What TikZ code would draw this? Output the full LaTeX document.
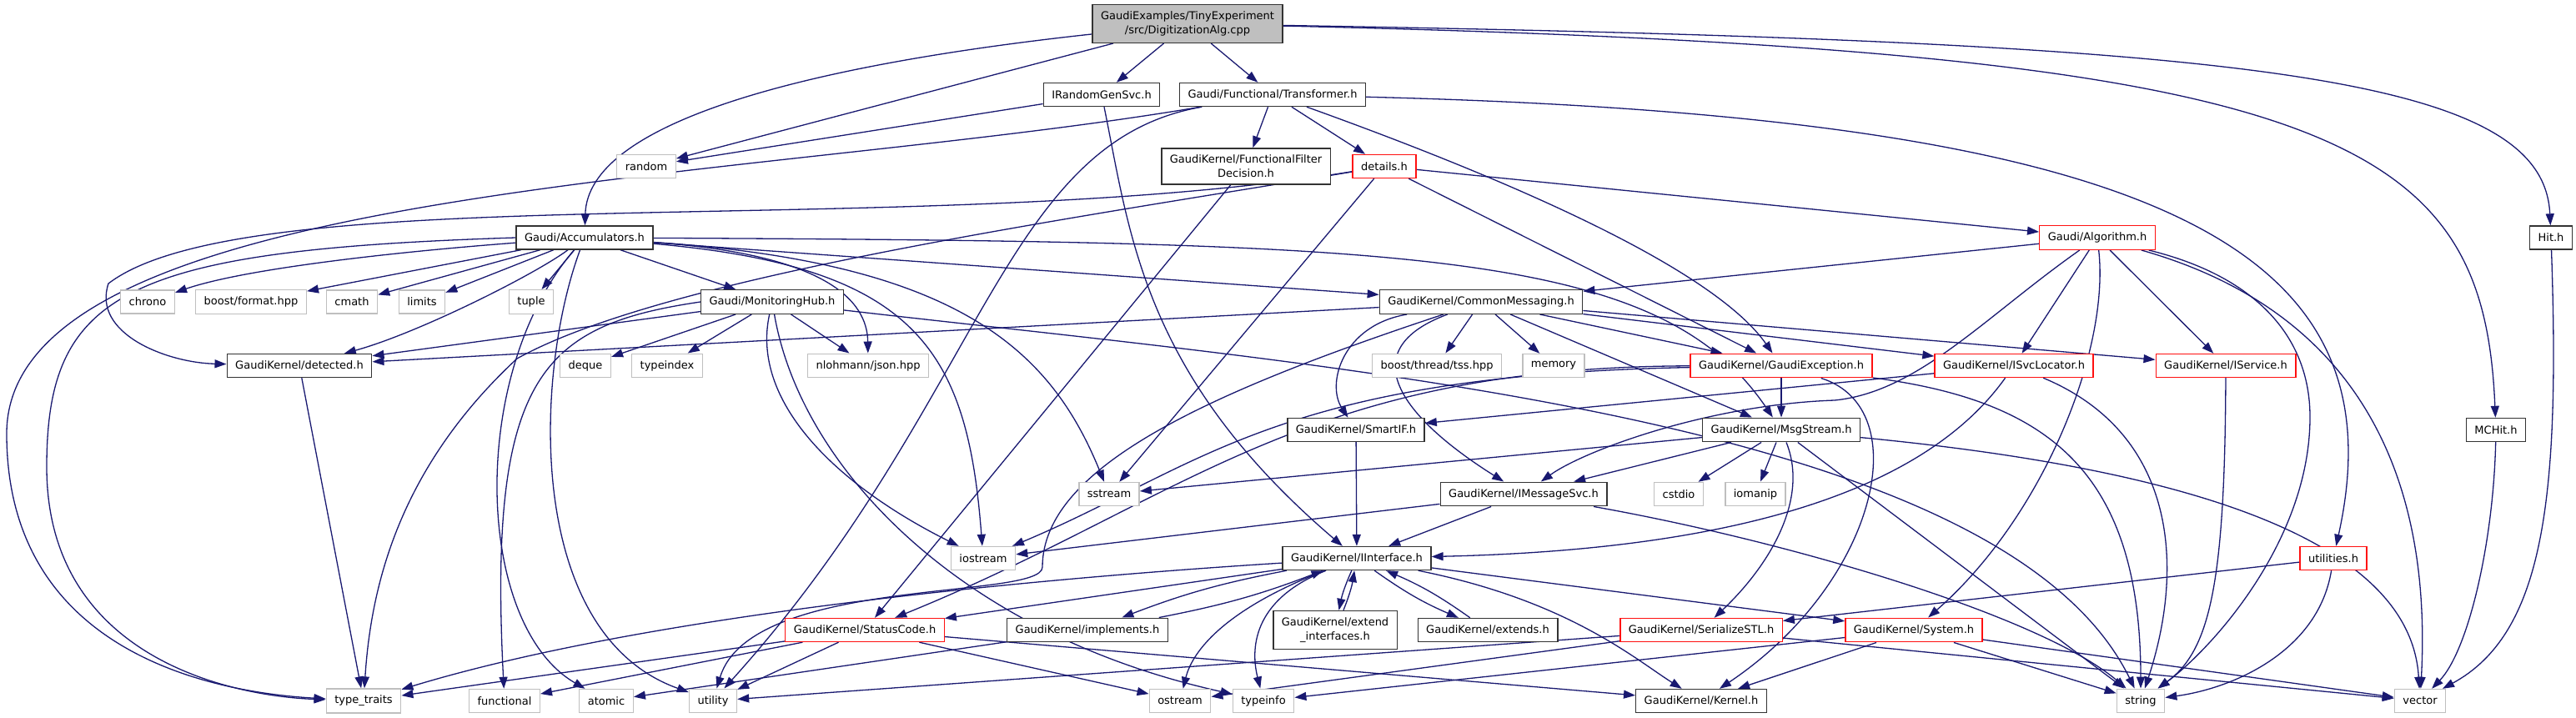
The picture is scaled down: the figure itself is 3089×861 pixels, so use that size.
\documentclass[tikz,border=0pt]{standalone}
\usepackage{fontspec}
\setmainfont{DejaVu Sans}
\usetikzlibrary{arrows.meta}
\definecolor{edgeblue}{HTML}{191970}
\definecolor{extgrey}{HTML}{BFBFBF}
\definecolor{truncred}{HTML}{FF1010}
\pgfdeclarelayer{edges}
\pgfsetlayers{edges,main}
\tikzstyle{hdr} = [draw=black!80, line width=1.4pt, fill=white, text=black, rectangle, minimum height=28pt, inner xsep=10pt, inner ysep=8pt, font=\fontsize{13}{17}\selectfont]
\tikzstyle{inc} = [hdr]
\tikzstyle{incred} = [hdr, draw=truncred]
\tikzstyle{incext} = [hdr, draw=extgrey]
\tikzstyle{incmain} = [hdr, fill=extgrey, align=center]
\tikzstyle{deps} = [color=edgeblue, line width=1.3pt]

\begin{document}
\begin{tikzpicture}[->,>={Triangle[length=14pt,width=10pt]},x=1pt,y=-1pt]
	\useasboundingbox (0,0) rectangle (3089,861);
	% header boxes, row by row
	\node (main) [incmain] at (1424,28.5) {GaudiExamples/TinyExperiment\\/src/DigitizationAlg.cpp};
	\node (rndsvc) [inc] at (1321,113.5) {IRandomGenSvc.h};
	\node (transf) [inc] at (1526,113.5) {Gaudi/Functional/Transformer.h};
	\node (random) [incext] at (775,199.5) {random};
	\node (filter) [inc, align=center] at (1494,199.5) {GaudiKernel/FunctionalFilter\\Decision.h};
	\node (details) [incred] at (1660,199.5) {details.h};
	\node (accum) [inc] at (701,285) {Gaudi/Accumulators.h};
	\node (algo) [incred] at (2515,285) {Gaudi/Algorithm.h};
	\node (hit) [inc] at (3059,285) {Hit.h};
	\node (chrono) [incext] at (177,362) {chrono};
	\node (bformat) [incext] at (301,362) {boost/format.hpp};
	\node (cmath) [incext] at (422,362) {cmath};
	\node (limits) [incext] at (506,362) {limits};
	\node (tuple) [incext] at (637,362) {tuple};
	\node (monhub) [inc] at (926,362) {Gaudi/MonitoringHub.h};
	\node (commsg) [inc] at (1776,362) {GaudiKernel/CommonMessaging.h};
	\node (detected) [inc] at (359,438.5) {GaudiKernel/detected.h};
	\node (deque) [incext] at (702,438.5) {deque};
	\node (typeindex) [incext] at (800,438.5) {typeindex};
	\node (json) [incext] at (1041,438.5) {nlohmann/json.hpp};
	\node (tss) [incext] at (1723,438.5) {boost/thread/tss.hpp};
	\node (memory) [incext] at (1863,438.5) {memory};
	\node (gexc) [incred] at (2136,438.5) {GaudiKernel/GaudiException.h};
	\node (svcloc) [incred] at (2415,438.5) {GaudiKernel/ISvcLocator.h};
	\node (service) [incred] at (2669,438.5) {GaudiKernel/IService.h};
	\node (smartif) [inc] at (1626,515.5) {GaudiKernel/SmartIF.h};
	\node (msgstr) [inc] at (2136,515.5) {GaudiKernel/MsgStream.h};
	\node (mchit) [inc] at (2993,515.5) {MCHit.h};
	\node (sstream) [incext] at (1330,592.5) {sstream};
	\node (msgsvc) [inc] at (1827,592.5) {GaudiKernel/IMessageSvc.h};
	\node (cstdio) [incext] at (2013,592.5) {cstdio};
	\node (iomanip) [incext] at (2105,592.5) {iomanip};
	\node (iostream) [incext] at (1179,669.5) {iostream};
	\node (iface) [inc] at (1627,669.5) {GaudiKernel/IInterface.h};
	\node (utilities) [incred] at (2798,669.5) {utilities.h};
	\node (status) [incred] at (1037,755.5) {GaudiKernel/StatusCode.h};
	\node (implem) [inc] at (1304,755.5) {GaudiKernel/implements.h};
	\node (extif) [inc, align=center] at (1601,755.5) {GaudiKernel/extend\\\_interfaces.h};
	\node (extends) [inc] at (1784,755.5) {GaudiKernel/extends.h};
	\node (serial) [incred] at (2040,755.5) {GaudiKernel/SerializeSTL.h};
	\node (system) [incred] at (2295,755.5) {GaudiKernel/System.h};
	\node (ttraits) [incext] at (436,840.5) {type\_traits};
	\node (functional) [incext] at (605,840.5) {functional};
	\node (atomic) [incext] at (727,840.5) {atomic};
	\node (utility) [incext] at (855,840.5) {utility};
	\node (ostream) [incext] at (1415,840.5) {ostream};
	\node (typeinfo) [incext] at (1515,840.5) {typeinfo};
	\node (kernel) [inc] at (2040,840.5) {GaudiKernel/Kernel.h};
	\node (string) [incext] at (2567,840.5) {string};
	\node (vector) [incext] at (2902,840.5) {vector};

	\begin{pgfonlayer}{edges}
	\begin{scope}[deps]
	% includes of the source file
	\draw (main) .. controls (950,80) and (705,150) .. (accum);
	\draw (main) -- (random);
	\draw (main) -- (rndsvc);
	\draw (main) -- (transf);
	\draw (main) .. controls (2700,50) and (3050,90) .. (hit);
	\draw (main) .. controls (2800,60) and (2978,160) .. (mchit);
	\draw (rndsvc) -- (random);
	\draw (rndsvc) .. controls (1355,280) and (1370,450) .. (iface);
	% Transformer.h
	\draw (transf) -- (filter);
	\draw (transf) -- (details);
	\draw (transf) .. controls (1850,230) and (2060,330) .. (gexc);
	\draw (transf) .. controls (2600,140) and (2880,300) .. (utilities);
	\draw (transf) .. controls (900,220) and (8,220) .. (8,520) .. controls (8,780) and (250,830) .. (ttraits);
	\draw (transf) .. controls (1200,170) and (1180,480) .. (utility);
	\draw (filter) -- (status);
	\draw (details) -- (algo);
	\draw (details) -- (gexc);
	\draw (details) -- (sstream);
	\draw (details) .. controls (1100,290) and (300,210) .. (130,340) .. controls (110,400) and (200,435) .. (detected);
	\draw (details) .. controls (1300,260) and (800,330) .. (620,430) .. controls (480,560) and (445,700) .. (ttraits);
	% Accumulators.h
	\draw (accum) .. controls (500,300) and (300,320) .. (chrono);
	\draw (accum) -- (bformat);
	\draw (accum) -- (cmath);
	\draw (accum) -- (limits);
	\draw (accum) -- (tuple);
	\draw (accum) -- (monhub);
	\draw (accum) .. controls (640,330) and (500,400) .. (detected);
	\draw (accum.west) .. controls (150,300) and (56,350) .. (56,560) .. controls (56,790) and (280,835) .. (ttraits);
	\draw (accum) -- (commsg);
	\draw (accum) .. controls (1700,290) and (1990,300) .. (msgstr);
	\draw (accum) .. controls (990,305) and (1040,360) .. (json);
	\draw (accum) .. controls (1100,320) and (1160,420) .. (iostream);
	\draw (accum) .. controls (1150,315) and (1260,420) .. (sstream);
	\draw (accum) .. controls (560,450) and (570,750) .. (atomic);
	\draw (accum) .. controls (640,450) and (630,760) .. (utility);
	% Algorithm.h
	\draw (algo) -- (commsg);
	\draw (algo) -- (svcloc);
	\draw (algo) -- (service);
	\draw (algo) .. controls (2380,380) and (2300,470) .. (2200,480) .. controls (2050,485) and (1900,540) .. (msgsvc);
	\draw (algo) .. controls (2530,420) and (2450,620) .. (system);
	\draw (algo) .. controls (2700,330) and (2770,400) .. (2770,500) .. controls (2770,650) and (2650,780) .. (string);
	\draw (algo) .. controls (2850,380) and (2915,600) .. (vector);
	\draw (hit) .. controls (3070,600) and (3050,760) .. (vector);
	% MonitoringHub.h
	\draw (monhub) -- (deque);
	\draw (monhub) -- (typeindex);
	\draw (monhub) -- (detected);
	\draw (monhub) -- (json);
	\draw (monhub.west) .. controls (650,390) and (585,450) .. (functional);
	\draw (monhub) .. controls (900,480) and (1000,580) .. (iostream);
	\draw (monhub) .. controls (960,560) and (1150,760) .. (typeinfo);
	\draw (monhub) .. controls (1600,440) and (2400,500) .. (string);
	% CommonMessaging.h
	\draw (commsg) -- (detected);
	\draw (commsg) -- (tss);
	\draw (commsg) -- (memory);
	\draw (commsg) .. controls (1610,390) and (1590,460) .. (smartif);
	\draw (commsg) .. controls (1620,420) and (1680,500) .. (msgsvc);
	\draw (commsg) -- (msgstr);
	\draw (commsg) -- (gexc);
	\draw (commsg) -- (svcloc);
	\draw (commsg) -- (service);
	\draw (commsg) .. controls (1450,470) and (1250,560) .. (1250,680) .. controls (1250,720) and (900,690) .. (utility);
	\draw (detected) -- (ttraits);
	% GaudiException.h, ISvcLocator.h, IService.h
	\draw (gexc) -- (msgstr);
	\draw (gexc) .. controls (2300,490) and (2250,700) .. (kernel);
	\draw (gexc) .. controls (2450,480) and (2567,560) .. (string);
	\draw (gexc) .. controls (1560,440) and (1420,600) .. (status);
	\draw (gexc) .. controls (1530,450) and (1440,560) .. (iostream);
	\draw (svcloc) -- (smartif);
	\draw (svcloc) .. controls (2300,600) and (2050,660) .. (iface);
	\draw (svcloc) .. controls (2610,520) and (2620,680) .. (string);
	\draw (service) .. controls (2668,700) and (2650,780) .. (string);
	% MsgStream.h
	\draw (msgstr) -- (msgsvc);
	\draw (msgstr) -- (sstream);
	\draw (msgstr) -- (cstdio);
	\draw (msgstr) -- (iomanip);
	\draw (msgstr) .. controls (2170,600) and (2120,680) .. (serial);
	\draw (msgstr) -- (string);
	\draw (msgstr) .. controls (2600,560) and (2890,640) .. (vector);
	\draw (mchit) .. controls (2990,650) and (2960,780) .. (vector);
	\draw (smartif) -- (iface);
	\draw (msgsvc) -- (iface);
	\draw (msgsvc) -- (iostream);
	\draw (msgsvc) .. controls (2150,650) and (2450,740) .. (string);
	\draw (utilities) -- (serial);
	\draw (utilities) .. controls (2780,780) and (2680,825) .. (string);
	% IInterface.h
	\draw (iface) -- (status);
	\draw (iface) to[bend right=5] (implem);
	\draw (implem) to[bend right=5] (iface);
	\draw (iface) to[bend right=6] (extif);
	\draw (extif) to[bend right=6] (iface);
	\draw (iface) to[bend right=6] (extends);
	\draw (extends) to[bend right=6] (iface);
	\draw (iface) .. controls (1300,690) and (800,730) .. (ttraits);
	\draw (iface) .. controls (1470,730) and (1430,780) .. (ostream);
	\draw (iface) .. controls (1500,720) and (1500,780) .. (typeinfo);
	\draw (iface) .. controls (1880,720) and (1960,790) .. (kernel);
	\draw (iface) -- (system);
	\draw (implem) -- (atomic);
	% StatusCode.h, SerializeSTL.h, System.h
	\draw (status) -- (ttraits);
	\draw (status) -- (functional);
	\draw (status) -- (utility);
	\draw (status) -- (ostream);
	\draw (status) -- (kernel);
	\draw (serial) -- (ostream);
	\draw (serial) -- (utility);
	\draw (serial) -- (vector);
	\draw (system) -- (typeinfo);
	\draw (system) -- (kernel);
	\draw (system) -- (string);
	\draw (system) -- (vector);
	\end{scope}
	\end{pgfonlayer}
\end{tikzpicture}
\end{document}
